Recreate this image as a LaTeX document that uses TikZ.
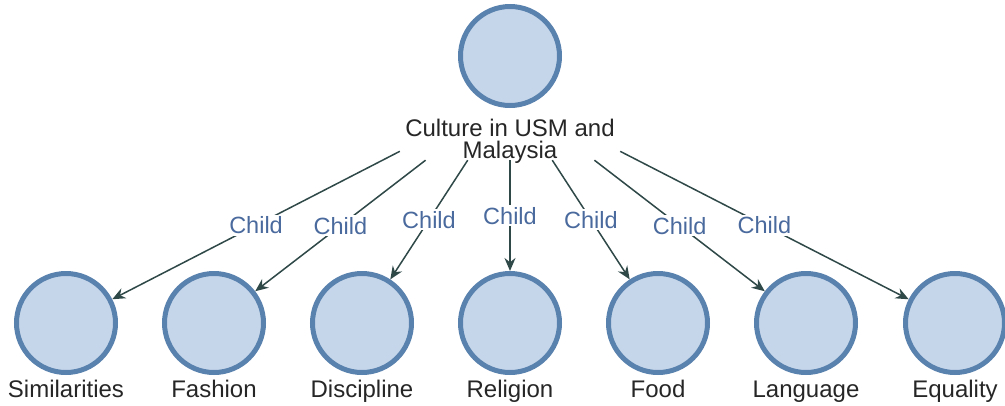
\documentclass[tikz,border=0pt]{standalone}
\usepackage{fontspec}
\setmainfont{Liberation Sans}
\usepackage{xcolor}
\usetikzlibrary{positioning, arrows.meta}
\definecolor{nodefill}{HTML}{C6D6EA}
\definecolor{nodeline}{HTML}{5A82AE}
\definecolor{edgeline}{HTML}{2F4848}
\definecolor{childblue}{HTML}{4A6A9E}

\begin{document}
\begin{tikzpicture}[x=1pt, y=-1pt,
  topic/.style={circle, draw=nodeline, fill=nodefill, line width=5pt,
    minimum size=99pt, inner sep=0pt},
  topictext/.style={font=\fontsize{24}{22}\selectfont, text=black!85},
  arrow/.style={-{Stealth[length=13pt, width=11pt]}, line width=1.5pt, edgeline},
  childlbl/.style={midway, fill=white, inner sep=2pt, text=childblue,
    font=\fontsize{23.5}{24}\selectfont}
]
\useasboundingbox (0,0) rectangle (1005,405);

% Root topic
\node[topic] (root) at (510,56) {};
\node[topictext, align=center] (roottxt) at (510,141) {Culture in USM and\\Malaysia};
\node[minimum width=220pt, minimum height=130pt, inner sep=0pt] (rootbox) at (510,95) {};

% Children (one row)
\node[topic, label={[topictext, yshift=-2pt]below:Similarities}] (sim) at (66,323) {};
\node[topic, label={[topictext, yshift=-2pt]below:Fashion}] (fash) at (214,323) {};
\node[topic, label={[topictext, yshift=-2pt]below:Discipline}] (disc) at (362,323) {};
\node[topic, label={[topictext, yshift=-2pt]below:Religion}] (rel) at (510,323) {};
\node[topic, label={[topictext, yshift=-2pt]below:Food}] (food) at (658,323) {};
\node[topic, label={[topictext, yshift=-2pt]below:Language}] (lang) at (806,323) {};
\node[topic, label={[topictext, yshift=-2pt]below:Equality}] (equ) at (955,323) {};

% Child links
\foreach \c in {sim, fash, disc, rel, food, lang, equ}
  \draw[arrow] (rootbox) -- node[childlbl] {Child} (\c);

\end{tikzpicture}
\end{document}
